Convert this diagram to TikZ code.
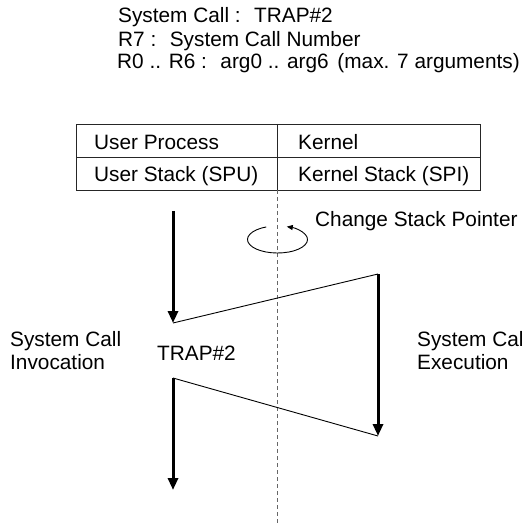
\documentclass[tikz,border=0pt]{standalone}
\usepackage{fontspec}
\setmainfont{Liberation Sans}
\usetikzlibrary{arrows.meta}
\begin{document}
\begin{tikzpicture}[x=1pt,y=1pt,
  font=\fontsize{20.8}{23}\selectfont,
  txt/.style={inner sep=0pt, anchor=base west},
  tableline/.style={draw=black!85, line width=0.9pt},
  flowarrow/.style={line width=3pt, -{Triangle[length=12pt,width=10pt]}},
  thinlink/.style={line width=0.9pt},
  divider/.style={draw=black!60, line width=0.8pt, dash pattern=on 4pt off 3pt},
  turn/.style={line width=0.9pt, -{Triangle[length=6pt,width=5pt]}}]
\useasboundingbox (0,0) rectangle (522,-526);

% header
\node[txt] (h1) at (118,-23) {System Call :~ TRAP\#2};
\node[txt] (h2) at (118,-46.5) {R7 :~ System Call Number};
\node[txt] (h3) at (117,-69) {R0 .. R6 :~ arg0 .. arg6\hspace{0.42em}(max. 7 arguments)};

% table
\draw[tableline] (76,-124) rectangle (480,-190);
\draw[tableline] (76,-157) -- (480,-157);
\draw[tableline] (277,-124) -- (277,-190);
\node[txt] (up) at (94,-149.5) {User Process};
\node[txt] (us) at (94,-181.5) {User Stack (SPU)};
\node[txt] (kp) at (298,-149.5) {Kernel};
\node[txt] (ks) at (298,-181.5) {Kernel Stack (SPI)};

% dashed boundary
\coordinate (dtop) at (277,-190);
\coordinate (dbot) at (277,-526);
\draw[divider] (dtop) -- (dbot);

% change stack pointer
\coordinate (ec) at (277.5,-239.5);
\draw[turn] ([shift={(112:30 and 13.5)}]ec) arc[start angle=112, end angle=432, x radius=30, y radius=13.5];
\node[txt] (csp) at (315,-226) {Change Stack Pointer};

% flow
\coordinate (a1) at (173,-211);
\coordinate (a2) at (173,-323);
\coordinate (b1) at (378,-274);
\coordinate (b2) at (378,-436);
\coordinate (c1) at (173,-378);
\coordinate (c2) at (173,-490);
\draw[flowarrow] (a1) -- (a2);
\draw[thinlink] (a2) -- (b1);
\draw[flowarrow] (b1) -- (b2);
\draw[thinlink] (b2) -- (c1);
\draw[flowarrow] (c1) -- (c2);

% labels
\node[txt] (inv1) at (10,-346.5) {System Call};
\node[txt] (inv2) at (10,-369.5) {Invocation};
\node[txt] (trap) at (157,-360) {TRAP\#2};
\node[txt] (ex1) at (417,-346.5) {System Call};
\node[txt] (ex2) at (417,-369.5) {Execution};
\end{tikzpicture}
\end{document}
